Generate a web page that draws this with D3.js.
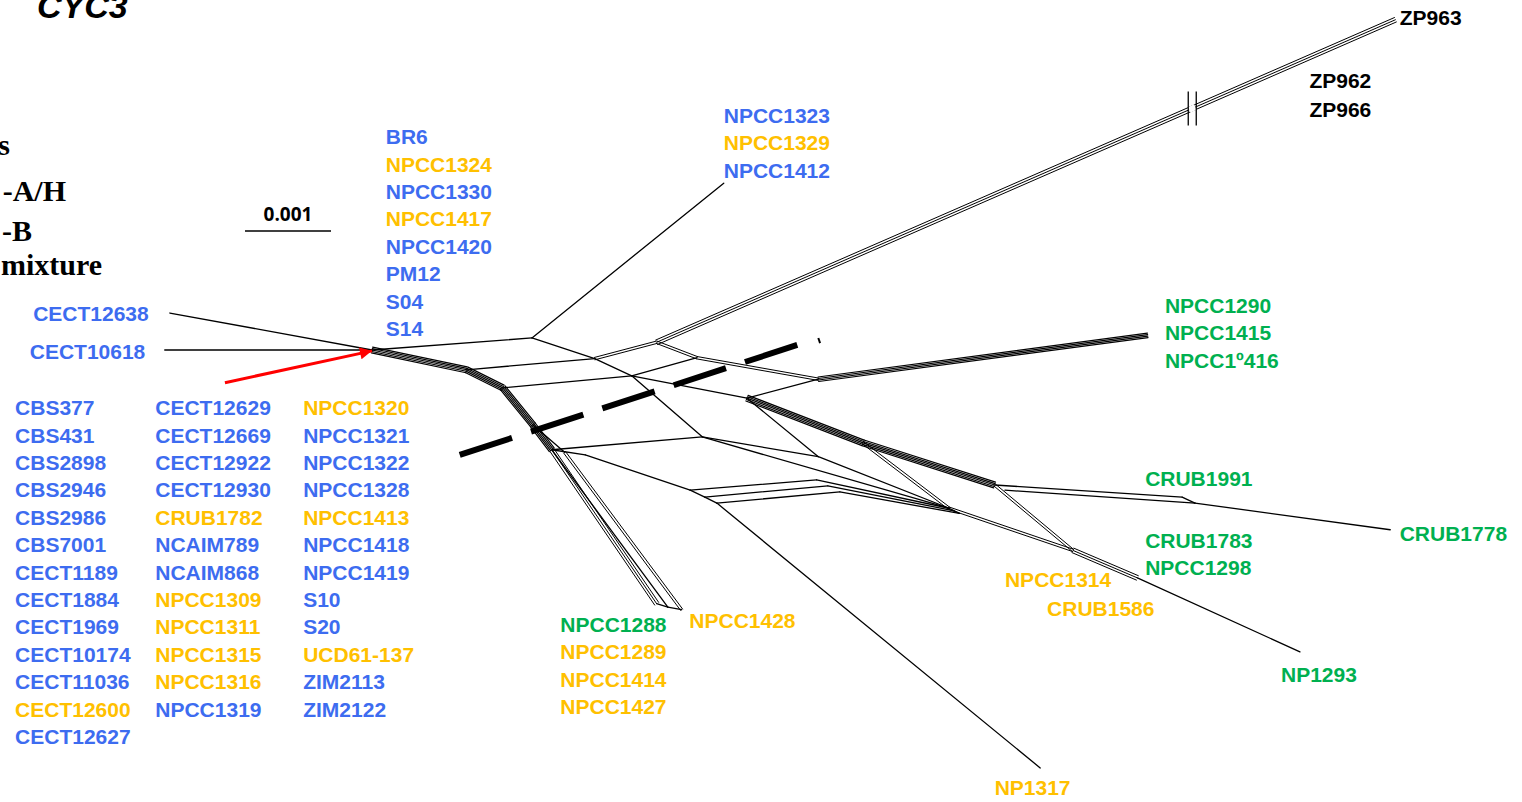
<!DOCTYPE html>
<html>
<head>
<meta charset="utf-8">
<script src="https://cdn.jsdelivr.net/npm/d3@7"></script>
<style>
  body { margin: 0; background: #fff; }
  text { font-family: "Liberation Sans", Arial, sans-serif; font-weight: bold; }
</style>
</head>
<body>
<div id="chart"></div>
<script>
var width = 1522;
var height = 802;

// network nodes, in units of 0.001 substitutions/site, relative to the root
var nodes = {
  R: [0, 0],
  tCECT12638: [-2.35, -0.43], tCECT10618: [-2.41, 0],
  A: [1.86, -0.14], t1323: [4.09, -1.94],
  B: [2.59, 0.10], C: [3.31, -0.09], tZP: [11.90, -3.84],
  D: [3.02, 0.30], H: [3.78, 0.09], K: [5.19, 0.34], t1290: [9.02, -0.17],
  G: [4.36, 0.56], E: [3.84, 1.01], I: [5.19, 1.24], N: [5.71, 1.08],
  J: [6.71, 1.84], M: [7.24, 1.57], M2: [7.36, 1.63],
  Q: [8.15, 2.33], Q2: [8.90, 2.65], t1293: [10.79, 3.51],
  S1: [9.42, 1.71], S2: [9.57, 1.78], tCRUB1778: [11.84, 2.09],
  L1: [1.10, 0.23], L2: [1.52, 0.44], L3: [1.87, 0.87], L4: [2.09, 1.16], L4b: [2.24, 1.19], L5: [2.48, 1.22],
  P1: [3.70, 1.63], P2: [3.87, 1.71], P3: [4.01, 1.78], tNP1317: [7.77, 4.86],
  R1: [5.17, 1.51], R2: [5.30, 1.58], R3: [5.44, 1.65],
  J2: [6.77, 1.87], J3: [6.83, 1.90],
  T1288a: [3.31, 2.95], T1288b: [3.44, 2.99], T1428: [3.60, 3.02]
};

// edges: from, to, number of parallel splits
var edges = [
  ['tCECT12638', 'R', 1], ['tCECT10618', 'R', 1],
  ['R', 'L1', 5], ['L1', 'L2', 5], ['L2', 'L3', 5], ['L3', 'L4', 5],
  ['L4', 'T1288a', 3], ['L4', 'T1288b', 1], ['L4b', 'T1428', 2], ['L3', 'L4b', 1],
  ['T1288a', 'T1288b', 1], ['T1288b', 'T1428', 1],
  ['R', 'A', 1], ['L1', 'B', 1], ['L2', 'D', 1], ['L4', 'E', 1],
  ['A', 'B', 1], ['B', 'D', 1], ['D', 'E', 1],
  ['A', 't1323', 1],
  ['B', 'C', 2], ['C', 'H', 2], ['D', 'H', 1], ['H', 'K', 2],
  ['D', 'G', 1], ['G', 'K', 1], ['K', 't1290', 4],
  ['C', 'tZP', 3],
  ['G', 'N', 5], ['N', 'M', 5], ['G', 'I', 1], ['E', 'I', 1], ['I', 'J', 1], ['E', 'J', 1],
  ['N', 'J', 2], ['J', 'Q', 2], ['M', 'Q', 2], ['Q', 'Q2', 3], ['Q2', 't1293', 1],
  ['M', 'S1', 1], ['S1', 'S2', 1], ['M2', 'S2', 1], ['S2', 'tCRUB1778', 1],
  ['L4', 'L5', 1], ['L5', 'P1', 1], ['P1', 'P2', 1], ['P2', 'P3', 1], ['P3', 'tNP1317', 1],
  ['P1', 'R1', 1], ['P2', 'R2', 1], ['P3', 'R3', 1],
  ['R1', 'J', 1], ['R2', 'J2', 1], ['R3', 'J3', 1], ['J', 'J3', 1]
];

// dashed separator and the red pointer (same units)
var dashLine = [[1.02, 1.22], [4.98, -0.07]];
var dashTick = [[5.19, -0.14], [5.21, -0.08]];
var arrowLine = [[-1.71, 0.38], [0, 0.01]];
var scaleBarLength = 0.001;

// label blocks: anchor (units), names, colour groups
var labelBlocks = [
  {at: [0.16, -2.48], names: ['BR6', 'NPCC1324', 'NPCC1330', 'NPCC1417', 'NPCC1420', 'PM12', 'S04', 'S14'], groups: ['b', 'o', 'b', 'o', 'b', 'b', 'b', 'b']},
  {at: [4.09, -2.73], names: ['NPCC1323', 'NPCC1329', 'NPCC1412'], groups: ['b', 'o', 'b']},
  {at: [11.95, -3.87], names: ['ZP963'], groups: ['k']},
  {at: [10.90, -3.13], names: ['ZP962', 'ZP966'], groups: ['k', 'k'], step: 29},
  {at: [-3.94, -0.42], names: ['CECT12638'], groups: ['b']},
  {at: [-3.98, 0.02], names: ['CECT10618'], groups: ['b']},
  {at: [-4.15, 0.67], names: ['CBS377', 'CBS431', 'CBS2898', 'CBS2946', 'CBS2986', 'CBS7001', 'CECT1189', 'CECT1884', 'CECT1969', 'CECT10174', 'CECT11036', 'CECT12600', 'CECT12627'],
    groups: ['b', 'b', 'b', 'b', 'b', 'b', 'b', 'b', 'b', 'b', 'b', 'o', 'b']},
  {at: [-2.52, 0.67], names: ['CECT12629', 'CECT12669', 'CECT12922', 'CECT12930', 'CRUB1782', 'NCAIM789', 'NCAIM868', 'NPCC1309', 'NPCC1311', 'NPCC1315', 'NPCC1316', 'NPCC1319'],
    groups: ['b', 'b', 'b', 'b', 'o', 'b', 'b', 'o', 'o', 'o', 'o', 'b']},
  {at: [-0.80, 0.67], names: ['NPCC1320', 'NPCC1321', 'NPCC1322', 'NPCC1328', 'NPCC1413', 'NPCC1418', 'NPCC1419', 'S10', 'S20', 'UCD61-137', 'ZIM2113', 'ZIM2122'],
    groups: ['o', 'b', 'b', 'b', 'o', 'b', 'b', 'b', 'b', 'o', 'b', 'b']},
  {at: [2.19, 3.19], names: ['NPCC1288', 'NPCC1289', 'NPCC1414', 'NPCC1427'], groups: ['g', 'o', 'o', 'o']},
  {at: [3.69, 3.14], names: ['NPCC1428'], groups: ['o']},
  {at: [7.24, 5.09], names: ['NP1317'], groups: ['o']},
  {at: [7.36, 2.67], names: ['NPCC1314'], groups: ['o']},
  {at: [7.85, 3.00], names: ['CRUB1586'], groups: ['o']},
  {at: [8.99, 2.21], names: ['CRUB1783', 'NPCC1298'], groups: ['g', 'g']},
  {at: [8.99, 1.49], names: ['CRUB1991'], groups: ['g']},
  {at: [11.95, 2.13], names: ['CRUB1778'], groups: ['g']},
  {at: [9.22, -0.52], names: ['NPCC1290', 'NPCC1415', 'NPCC1\u00BA416'], groups: ['g', 'g', 'g']},
  {at: [10.57, 3.77], names: ['NP1293'], groups: ['g']}
];

var legendLines = ['s', '-A/H', '-B', 'mixture'];

var groupColors = {b: '#3d6cf0', o: '#ffc000', g: '#00b050', k: '#000000'};

var svg = d3.select('#chart').append('svg')
  .attr('width', width)
  .attr('height', height);

// 1 unit (0.001) = 86 px, root at (372, 350)
var x = d3.scaleLinear().domain([0, 1]).range([372, 458]);
var y = d3.scaleLinear().domain([0, 1]).range([350, 436]);

var net = svg.append('g');

var drawEdge = function(p, q, m){
  var x1 = x(p[0]), y1 = y(p[1]), x2 = x(q[0]), y2 = y(q[1]);
  var len = Math.sqrt((x2 - x1) * (x2 - x1) + (y2 - y1) * (y2 - y1));
  var nx = -(y2 - y1) / len, ny = (x2 - x1) / len;
  var gap = m > 3 ? 1.5 : 2.4;
  for(var i = 0; i < m; i++){
    var off = (i - (m - 1) / 2) * gap;
    net.append('line')
      .attr('x1', x1 + nx * off).attr('y1', y1 + ny * off)
      .attr('x2', x2 + nx * off).attr('y2', y2 + ny * off)
      .attr('stroke', '#000')
      .attr('stroke-width', m > 3 ? 1.2 : (m > 1 ? 1 : 1.3))
      .attr('stroke-linecap', 'round');
  }
};

edges.forEach(function(e){
  drawEdge(nodes[e[0]], nodes[e[1]], e[2]);
});

// break marks on the long ZP branch
var zpA = nodes.C, zpB = nodes.tZP, t = 0.725;
var bx = x(zpA[0] + (zpB[0] - zpA[0]) * t), by = y(zpA[1] + (zpB[1] - zpA[1]) * t);
net.append('line').attr('x1', bx - 3).attr('y1', by + 1.5).attr('x2', bx + 3).attr('y2', by - 1.5)
  .attr('stroke', '#fff').attr('stroke-width', 6);
[-4, 4].forEach(function(d){
  net.append('line')
    .attr('x1', bx + d).attr('y1', by - 17)
    .attr('x2', bx + d).attr('y2', by + 17)
    .attr('stroke', '#000').attr('stroke-width', 1.3);
});

// dashed separator
svg.append('line')
  .attr('x1', x(dashLine[0][0])).attr('y1', y(dashLine[0][1]))
  .attr('x2', x(dashLine[1][0])).attr('y2', y(dashLine[1][1]))
  .attr('stroke', '#000').attr('stroke-width', 6)
  .attr('stroke-dasharray', '55,20');
svg.append('line')
  .attr('x1', x(dashTick[0][0])).attr('y1', y(dashTick[0][1]))
  .attr('x2', x(dashTick[1][0])).attr('y2', y(dashTick[1][1]))
  .attr('stroke', '#000').attr('stroke-width', 2);

// red arrow
svg.append('defs').append('marker')
  .attr('id', 'head')
  .attr('viewBox', '0 0 10 10')
  .attr('refX', 10).attr('refY', 5)
  .attr('markerWidth', 5).attr('markerHeight', 4)
  .attr('markerUnits', 'strokeWidth')
  .attr('orient', 'auto')
  .append('path').attr('d', 'M0,0L10,5L0,10z').attr('fill', '#ff0000');
svg.append('line')
  .attr('x1', x(arrowLine[0][0])).attr('y1', y(arrowLine[0][1]))
  .attr('x2', x(arrowLine[1][0])).attr('y2', y(arrowLine[1][1]))
  .attr('stroke', '#ff0000').attr('stroke-width', 3)
  .attr('marker-end', 'url(#head)');

// labels
var rowStep = 27.4;
labelBlocks.forEach(function(block){
  var step = block.step || rowStep;
  block.names.forEach(function(name, i){
    svg.append('text')
      .attr('x', x(block.at[0]))
      .attr('y', y(block.at[1]) + i * step + 7.5)
      .attr('fill', groupColors[block.groups[i]])
      .style('font-size', '21px')
      .text(name);
  });
});

// scale bar
var sb = svg.append('g');
sb.append('line')
  .attr('x1', 245).attr('y1', 231)
  .attr('x2', 245 + (x(scaleBarLength * 1000) - x(0))).attr('y2', 231)
  .attr('stroke', '#000').attr('stroke-width', 1.5);
sb.append('text')
  .attr('x', 245 + (x(scaleBarLength * 1000) - x(0)) / 2).attr('y', 221)
  .attr('text-anchor', 'middle')
  .style('font-family', '"Open Sans", sans-serif')
  .style('font-weight', 700)
  .style('font-size', '19px')
  .text('0.001');

// title, clipped by the top edge
svg.append('text')
  .attr('x', 37).attr('y', 18)
  .style('font-style', 'italic')
  .style('font-size', '34px')
  .text('CYC3');

// legend, clipped by the left edge
var legendEnds = [10, 66, 32, 102];
var legendBase = [155, 201, 241, 275];
legendLines.forEach(function(s, i){
  svg.append('text')
    .attr('x', legendEnds[i]).attr('y', legendBase[i])
    .attr('text-anchor', 'end')
    .style('font-family', '"Liberation Serif", "Times New Roman", serif')
    .style('font-size', '30px')
    .text(s);
});
</script>
</body>
</html>
